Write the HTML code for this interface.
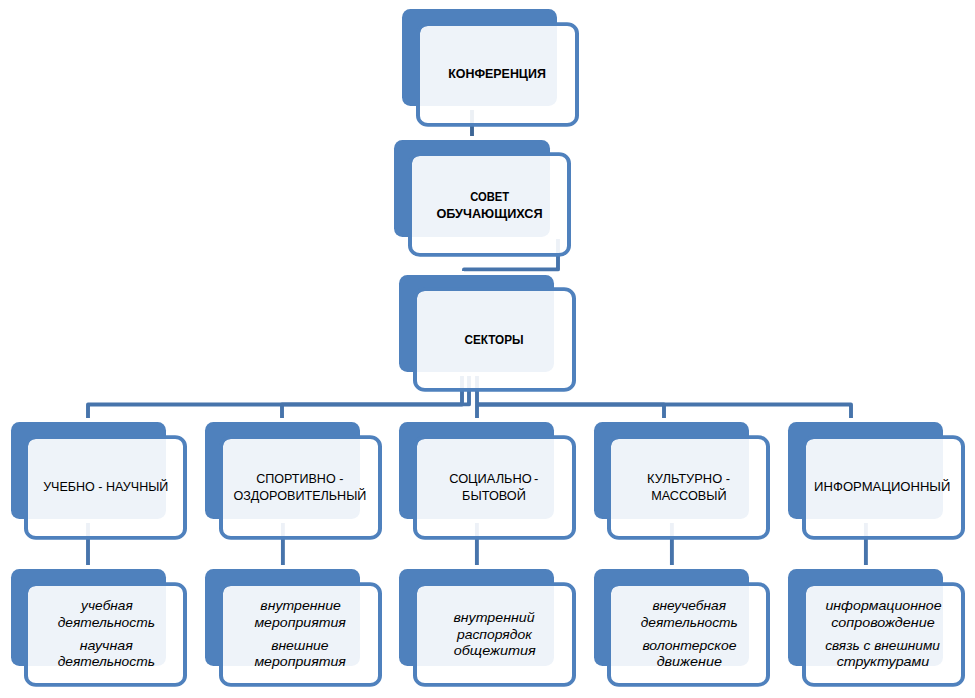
<!DOCTYPE html>
<html lang="ru">
<head>
<meta charset="utf-8">
<title>Структура совета обучающихся</title>
<style>
html,body{margin:0;padding:0;background:#fff;}
body{width:975px;height:698px;overflow:hidden;}
svg{display:block;}
text{font-family:"Liberation Sans",sans-serif;fill:#000;}
.b{font-weight:bold;font-size:12.6px;}
.r{font-size:12.6px;}
.i{font-style:italic;font-size:13.2px;}
</style>
</head>
<body>
<svg width="975" height="698" viewBox="0 0 975 698">
<g>
<rect x="402.00" y="9.00" width="155.0" height="97.0" rx="8.4" fill="#4F81BD"/>
<rect x="394.00" y="140.00" width="156.0" height="97.0" rx="8.4" fill="#4F81BD"/>
<rect x="399.00" y="275.00" width="155.0" height="97.0" rx="8.4" fill="#4F81BD"/>
<rect x="11.00" y="422.00" width="155.0" height="97.0" rx="8.4" fill="#4F81BD"/>
<rect x="205.00" y="422.00" width="155.0" height="97.0" rx="8.4" fill="#4F81BD"/>
<rect x="399.00" y="422.00" width="155.0" height="97.0" rx="8.4" fill="#4F81BD"/>
<rect x="594.00" y="422.00" width="155.0" height="97.0" rx="8.4" fill="#4F81BD"/>
<rect x="788.00" y="422.00" width="155.0" height="97.0" rx="8.4" fill="#4F81BD"/>
<rect x="11.00" y="569.00" width="155.0" height="97.0" rx="8.4" fill="#4F81BD"/>
<rect x="205.00" y="569.00" width="155.0" height="97.0" rx="8.4" fill="#4F81BD"/>
<rect x="399.00" y="569.00" width="155.0" height="97.0" rx="8.4" fill="#4F81BD"/>
<rect x="594.00" y="569.00" width="155.0" height="97.0" rx="8.4" fill="#4F81BD"/>
<rect x="788.00" y="569.00" width="155.0" height="97.0" rx="8.4" fill="#4F81BD"/>
</g>
<g>
<path d="M472 110 V136" fill="none" stroke="#3D6696" stroke-width="3.9" stroke-linejoin="round"/>
<path d="M558 239 V269.4 H464.0 V271.0" fill="none" stroke="#4774AB" stroke-width="3.9" stroke-linejoin="round"/>
<path d="M462 376 V404.55 H88 V418" fill="none" stroke="#4774AB" stroke-width="3.9" stroke-linejoin="round"/>
<path d="M469 376 V404.4 H282 V418" fill="none" stroke="#4774AB" stroke-width="3.9" stroke-linejoin="round"/>
<path d="M477 376 V418" fill="none" stroke="#4774AB" stroke-width="3.9" stroke-linejoin="round"/>
<path d="M477 404.55 H664 V418" fill="none" stroke="#4774AB" stroke-width="3.9" stroke-linejoin="round"/>
<path d="M477 404.55 H851 V418" fill="none" stroke="#4774AB" stroke-width="3.9" stroke-linejoin="round"/>
<path d="M88 523 V565" fill="none" stroke="#4774AB" stroke-width="3.9" stroke-linejoin="round"/>
<path d="M282.9 523 V565" fill="none" stroke="#4774AB" stroke-width="3.9" stroke-linejoin="round"/>
<path d="M476.9 523 V565" fill="none" stroke="#4774AB" stroke-width="3.9" stroke-linejoin="round"/>
<path d="M671.9 523 V565" fill="none" stroke="#4774AB" stroke-width="3.9" stroke-linejoin="round"/>
<path d="M865.9 523 V565" fill="none" stroke="#4774AB" stroke-width="3.9" stroke-linejoin="round"/>
</g>
<g>
<path d="M427.80 25.90H567.20A7.80 7.10 0 0 1 575.00 33.00V116.00A7.80 7.10 0 0 1 567.20 123.10H427.80A7.80 7.10 0 0 1 420.00 116.00V33.00A7.80 7.10 0 0 1 427.80 25.90Z" fill="#fff" fill-opacity="0.9"/><path d="M428.00 22.20H567.00A12.00 11.20 0 0 1 579.00 33.40V115.60A12.00 11.20 0 0 1 567.00 126.80H428.00A12.00 11.20 0 0 1 416.00 115.60V33.40A12.00 11.20 0 0 1 428.00 22.20ZM427.80 25.90H567.20A7.80 7.10 0 0 1 575.00 33.00V116.00A7.80 7.10 0 0 1 567.20 123.10H427.80A7.80 7.10 0 0 1 420.00 116.00V33.00A7.80 7.10 0 0 1 427.80 25.90Z" fill="#4F81BD" fill-rule="evenodd"/>
<path d="M419.80 155.90H559.20A7.80 7.10 0 0 1 567.00 163.00V246.00A7.80 7.10 0 0 1 559.20 253.10H419.80A7.80 7.10 0 0 1 412.00 246.00V163.00A7.80 7.10 0 0 1 419.80 155.90Z" fill="#fff" fill-opacity="0.9"/><path d="M420.00 152.20H559.00A12.00 11.20 0 0 1 571.00 163.40V245.60A12.00 11.20 0 0 1 559.00 256.80H420.00A12.00 11.20 0 0 1 408.00 245.60V163.40A12.00 11.20 0 0 1 420.00 152.20ZM419.80 155.90H559.20A7.80 7.10 0 0 1 567.00 163.00V246.00A7.80 7.10 0 0 1 559.20 253.10H419.80A7.80 7.10 0 0 1 412.00 246.00V163.00A7.80 7.10 0 0 1 419.80 155.90Z" fill="#4F81BD" fill-rule="evenodd"/>
<path d="M424.80 290.90H564.20A7.80 7.10 0 0 1 572.00 298.00V381.00A7.80 7.10 0 0 1 564.20 388.10H424.80A7.80 7.10 0 0 1 417.00 381.00V298.00A7.80 7.10 0 0 1 424.80 290.90Z" fill="#fff" fill-opacity="0.9"/><path d="M425.00 287.20H564.00A12.00 11.20 0 0 1 576.00 298.40V380.60A12.00 11.20 0 0 1 564.00 391.80H425.00A12.00 11.20 0 0 1 413.00 380.60V298.40A12.00 11.20 0 0 1 425.00 287.20ZM424.80 290.90H564.20A7.80 7.10 0 0 1 572.00 298.00V381.00A7.80 7.10 0 0 1 564.20 388.10H424.80A7.80 7.10 0 0 1 417.00 381.00V298.00A7.80 7.10 0 0 1 424.80 290.90Z" fill="#4F81BD" fill-rule="evenodd"/>
<path d="M35.80 438.90H175.20A7.80 7.10 0 0 1 183.00 446.00V529.00A7.80 7.10 0 0 1 175.20 536.10H35.80A7.80 7.10 0 0 1 28.00 529.00V446.00A7.80 7.10 0 0 1 35.80 438.90Z" fill="#fff" fill-opacity="0.9"/><path d="M36.00 435.20H175.00A12.00 11.20 0 0 1 187.00 446.40V528.60A12.00 11.20 0 0 1 175.00 539.80H36.00A12.00 11.20 0 0 1 24.00 528.60V446.40A12.00 11.20 0 0 1 36.00 435.20ZM35.80 438.90H175.20A7.80 7.10 0 0 1 183.00 446.00V529.00A7.80 7.10 0 0 1 175.20 536.10H35.80A7.80 7.10 0 0 1 28.00 529.00V446.00A7.80 7.10 0 0 1 35.80 438.90Z" fill="#4F81BD" fill-rule="evenodd"/>
<path d="M230.80 438.90H370.20A7.80 7.10 0 0 1 378.00 446.00V529.00A7.80 7.10 0 0 1 370.20 536.10H230.80A7.80 7.10 0 0 1 223.00 529.00V446.00A7.80 7.10 0 0 1 230.80 438.90Z" fill="#fff" fill-opacity="0.9"/><path d="M231.00 435.20H370.00A12.00 11.20 0 0 1 382.00 446.40V528.60A12.00 11.20 0 0 1 370.00 539.80H231.00A12.00 11.20 0 0 1 219.00 528.60V446.40A12.00 11.20 0 0 1 231.00 435.20ZM230.80 438.90H370.20A7.80 7.10 0 0 1 378.00 446.00V529.00A7.80 7.10 0 0 1 370.20 536.10H230.80A7.80 7.10 0 0 1 223.00 529.00V446.00A7.80 7.10 0 0 1 230.80 438.90Z" fill="#4F81BD" fill-rule="evenodd"/>
<path d="M424.80 438.90H564.20A7.80 7.10 0 0 1 572.00 446.00V529.00A7.80 7.10 0 0 1 564.20 536.10H424.80A7.80 7.10 0 0 1 417.00 529.00V446.00A7.80 7.10 0 0 1 424.80 438.90Z" fill="#fff" fill-opacity="0.9"/><path d="M425.00 435.20H564.00A12.00 11.20 0 0 1 576.00 446.40V528.60A12.00 11.20 0 0 1 564.00 539.80H425.00A12.00 11.20 0 0 1 413.00 528.60V446.40A12.00 11.20 0 0 1 425.00 435.20ZM424.80 438.90H564.20A7.80 7.10 0 0 1 572.00 446.00V529.00A7.80 7.10 0 0 1 564.20 536.10H424.80A7.80 7.10 0 0 1 417.00 529.00V446.00A7.80 7.10 0 0 1 424.80 438.90Z" fill="#4F81BD" fill-rule="evenodd"/>
<path d="M618.80 438.90H758.20A7.80 7.10 0 0 1 766.00 446.00V529.00A7.80 7.10 0 0 1 758.20 536.10H618.80A7.80 7.10 0 0 1 611.00 529.00V446.00A7.80 7.10 0 0 1 618.80 438.90Z" fill="#fff" fill-opacity="0.9"/><path d="M619.00 435.20H758.00A12.00 11.20 0 0 1 770.00 446.40V528.60A12.00 11.20 0 0 1 758.00 539.80H619.00A12.00 11.20 0 0 1 607.00 528.60V446.40A12.00 11.20 0 0 1 619.00 435.20ZM618.80 438.90H758.20A7.80 7.10 0 0 1 766.00 446.00V529.00A7.80 7.10 0 0 1 758.20 536.10H618.80A7.80 7.10 0 0 1 611.00 529.00V446.00A7.80 7.10 0 0 1 618.80 438.90Z" fill="#4F81BD" fill-rule="evenodd"/>
<path d="M813.80 438.90H953.20A7.80 7.10 0 0 1 961.00 446.00V529.00A7.80 7.10 0 0 1 953.20 536.10H813.80A7.80 7.10 0 0 1 806.00 529.00V446.00A7.80 7.10 0 0 1 813.80 438.90Z" fill="#fff" fill-opacity="0.9"/><path d="M814.00 435.20H953.00A12.00 11.20 0 0 1 965.00 446.40V528.60A12.00 11.20 0 0 1 953.00 539.80H814.00A12.00 11.20 0 0 1 802.00 528.60V446.40A12.00 11.20 0 0 1 814.00 435.20ZM813.80 438.90H953.20A7.80 7.10 0 0 1 961.00 446.00V529.00A7.80 7.10 0 0 1 953.20 536.10H813.80A7.80 7.10 0 0 1 806.00 529.00V446.00A7.80 7.10 0 0 1 813.80 438.90Z" fill="#4F81BD" fill-rule="evenodd"/>
<path d="M35.80 585.90H175.20A7.80 7.10 0 0 1 183.00 593.00V676.00A7.80 7.10 0 0 1 175.20 683.10H35.80A7.80 7.10 0 0 1 28.00 676.00V593.00A7.80 7.10 0 0 1 35.80 585.90Z" fill="#fff" fill-opacity="0.9"/><path d="M36.00 582.20H175.00A12.00 11.20 0 0 1 187.00 593.40V675.60A12.00 11.20 0 0 1 175.00 686.80H36.00A12.00 11.20 0 0 1 24.00 675.60V593.40A12.00 11.20 0 0 1 36.00 582.20ZM35.80 585.90H175.20A7.80 7.10 0 0 1 183.00 593.00V676.00A7.80 7.10 0 0 1 175.20 683.10H35.80A7.80 7.10 0 0 1 28.00 676.00V593.00A7.80 7.10 0 0 1 35.80 585.90Z" fill="#4F81BD" fill-rule="evenodd"/>
<path d="M230.80 585.90H370.20A7.80 7.10 0 0 1 378.00 593.00V676.00A7.80 7.10 0 0 1 370.20 683.10H230.80A7.80 7.10 0 0 1 223.00 676.00V593.00A7.80 7.10 0 0 1 230.80 585.90Z" fill="#fff" fill-opacity="0.9"/><path d="M231.00 582.20H370.00A12.00 11.20 0 0 1 382.00 593.40V675.60A12.00 11.20 0 0 1 370.00 686.80H231.00A12.00 11.20 0 0 1 219.00 675.60V593.40A12.00 11.20 0 0 1 231.00 582.20ZM230.80 585.90H370.20A7.80 7.10 0 0 1 378.00 593.00V676.00A7.80 7.10 0 0 1 370.20 683.10H230.80A7.80 7.10 0 0 1 223.00 676.00V593.00A7.80 7.10 0 0 1 230.80 585.90Z" fill="#4F81BD" fill-rule="evenodd"/>
<path d="M424.80 585.90H564.20A7.80 7.10 0 0 1 572.00 593.00V676.00A7.80 7.10 0 0 1 564.20 683.10H424.80A7.80 7.10 0 0 1 417.00 676.00V593.00A7.80 7.10 0 0 1 424.80 585.90Z" fill="#fff" fill-opacity="0.9"/><path d="M425.00 582.20H564.00A12.00 11.20 0 0 1 576.00 593.40V675.60A12.00 11.20 0 0 1 564.00 686.80H425.00A12.00 11.20 0 0 1 413.00 675.60V593.40A12.00 11.20 0 0 1 425.00 582.20ZM424.80 585.90H564.20A7.80 7.10 0 0 1 572.00 593.00V676.00A7.80 7.10 0 0 1 564.20 683.10H424.80A7.80 7.10 0 0 1 417.00 676.00V593.00A7.80 7.10 0 0 1 424.80 585.90Z" fill="#4F81BD" fill-rule="evenodd"/>
<path d="M618.80 585.90H758.20A7.80 7.10 0 0 1 766.00 593.00V676.00A7.80 7.10 0 0 1 758.20 683.10H618.80A7.80 7.10 0 0 1 611.00 676.00V593.00A7.80 7.10 0 0 1 618.80 585.90Z" fill="#fff" fill-opacity="0.9"/><path d="M619.00 582.20H758.00A12.00 11.20 0 0 1 770.00 593.40V675.60A12.00 11.20 0 0 1 758.00 686.80H619.00A12.00 11.20 0 0 1 607.00 675.60V593.40A12.00 11.20 0 0 1 619.00 582.20ZM618.80 585.90H758.20A7.80 7.10 0 0 1 766.00 593.00V676.00A7.80 7.10 0 0 1 758.20 683.10H618.80A7.80 7.10 0 0 1 611.00 676.00V593.00A7.80 7.10 0 0 1 618.80 585.90Z" fill="#4F81BD" fill-rule="evenodd"/>
<path d="M813.80 585.90H953.20A7.80 7.10 0 0 1 961.00 593.00V676.00A7.80 7.10 0 0 1 953.20 683.10H813.80A7.80 7.10 0 0 1 806.00 676.00V593.00A7.80 7.10 0 0 1 813.80 585.90Z" fill="#fff" fill-opacity="0.9"/><path d="M814.00 582.20H953.00A12.00 11.20 0 0 1 965.00 593.40V675.60A12.00 11.20 0 0 1 953.00 686.80H814.00A12.00 11.20 0 0 1 802.00 675.60V593.40A12.00 11.20 0 0 1 814.00 582.20ZM813.80 585.90H953.20A7.80 7.10 0 0 1 961.00 593.00V676.00A7.80 7.10 0 0 1 953.20 683.10H813.80A7.80 7.10 0 0 1 806.00 676.00V593.00A7.80 7.10 0 0 1 813.80 585.90Z" fill="#4F81BD" fill-rule="evenodd"/>
</g>
<g>
<text class="b" x="448.15" y="78.05" textLength="97.71" lengthAdjust="spacingAndGlyphs">КОНФЕРЕНЦИЯ</text>
<text class="b" x="470.15" y="201.05" textLength="38.95" lengthAdjust="spacingAndGlyphs">СОВЕТ</text>
<text class="b" x="436.40" y="218.05" textLength="106.20" lengthAdjust="spacingAndGlyphs">ОБУЧАЮЩИХСЯ</text>
<text class="b" x="464.40" y="344.05" textLength="59.19" lengthAdjust="spacingAndGlyphs">СЕКТОРЫ</text>
<text class="r" x="43.15" y="491.10" textLength="125.21" lengthAdjust="spacingAndGlyphs">УЧЕБНО - НАУЧНЫЙ</text>
<text class="r" x="256.15" y="483.10" textLength="87.20" lengthAdjust="spacingAndGlyphs">СПОРТИВНО -</text>
<text class="r" x="233.39" y="500.00" textLength="132.96" lengthAdjust="spacingAndGlyphs">ОЗДОРОВИТЕЛЬНЫЙ</text>
<text class="r" style="word-spacing:-1.4px" x="449.15" y="483.10" textLength="89.09" lengthAdjust="spacingAndGlyphs">СОЦИАЛЬНО -</text>
<text class="r" x="462.13" y="500.00" textLength="63.73" lengthAdjust="spacingAndGlyphs">БЫТОВОЙ</text>
<text class="r" x="647.14" y="483.10" textLength="82.98" lengthAdjust="spacingAndGlyphs">КУЛЬТУРНО -</text>
<text class="r" x="651.13" y="500.00" textLength="75.48" lengthAdjust="spacingAndGlyphs">МАССОВЫЙ</text>
<text class="r" x="814.14" y="491.10" textLength="136.21" lengthAdjust="spacingAndGlyphs">ИНФОРМАЦИОННЫЙ</text>
<text class="i" x="81.14" y="610.00" textLength="51.61" lengthAdjust="spacingAndGlyphs">учебная</text>
<text class="i" x="57.65" y="627.10" textLength="97.27" lengthAdjust="spacingAndGlyphs">деятельность</text>
<text class="i" x="79.65" y="650.00" textLength="53.20" lengthAdjust="spacingAndGlyphs">научная</text>
<text class="i" x="57.65" y="665.70" textLength="97.27" lengthAdjust="spacingAndGlyphs">деятельность</text>
<text class="i" x="260.39" y="610.00" textLength="80.52" lengthAdjust="spacingAndGlyphs">внутренние</text>
<text class="i" x="254.40" y="627.10" textLength="91.54" lengthAdjust="spacingAndGlyphs">мероприятия</text>
<text class="i" x="271.16" y="649.70" textLength="57.46" lengthAdjust="spacingAndGlyphs">внешние</text>
<text class="i" x="254.40" y="665.70" textLength="91.54" lengthAdjust="spacingAndGlyphs">мероприятия</text>
<text class="i" x="453.41" y="622.00" textLength="81.15" lengthAdjust="spacingAndGlyphs">внутренний</text>
<text class="i" x="456.90" y="638.70" textLength="74.90" lengthAdjust="spacingAndGlyphs">распорядок</text>
<text class="i" x="453.66" y="654.90" textLength="82.15" lengthAdjust="spacingAndGlyphs">общежития</text>
<text class="i" x="652.40" y="610.00" textLength="73.70" lengthAdjust="spacingAndGlyphs">внеучебная</text>
<text class="i" x="640.65" y="627.10" textLength="97.11" lengthAdjust="spacingAndGlyphs">деятельность</text>
<text class="i" x="642.40" y="649.70" textLength="94.02" lengthAdjust="spacingAndGlyphs">волонтерское</text>
<text class="i" x="656.65" y="665.70" textLength="65.30" lengthAdjust="spacingAndGlyphs">движение</text>
<text class="i" x="825.40" y="610.00" textLength="116.22" lengthAdjust="spacingAndGlyphs">информационное</text>
<text class="i" x="831.16" y="627.10" textLength="103.46" lengthAdjust="spacingAndGlyphs">сопровождение</text>
<text class="i" x="825.16" y="649.70" textLength="114.75" lengthAdjust="spacingAndGlyphs">связь с внешними</text>
<text class="i" x="836.66" y="665.70" textLength="92.60" lengthAdjust="spacingAndGlyphs">структурами</text>
</g>
</svg>
</body>
</html>
